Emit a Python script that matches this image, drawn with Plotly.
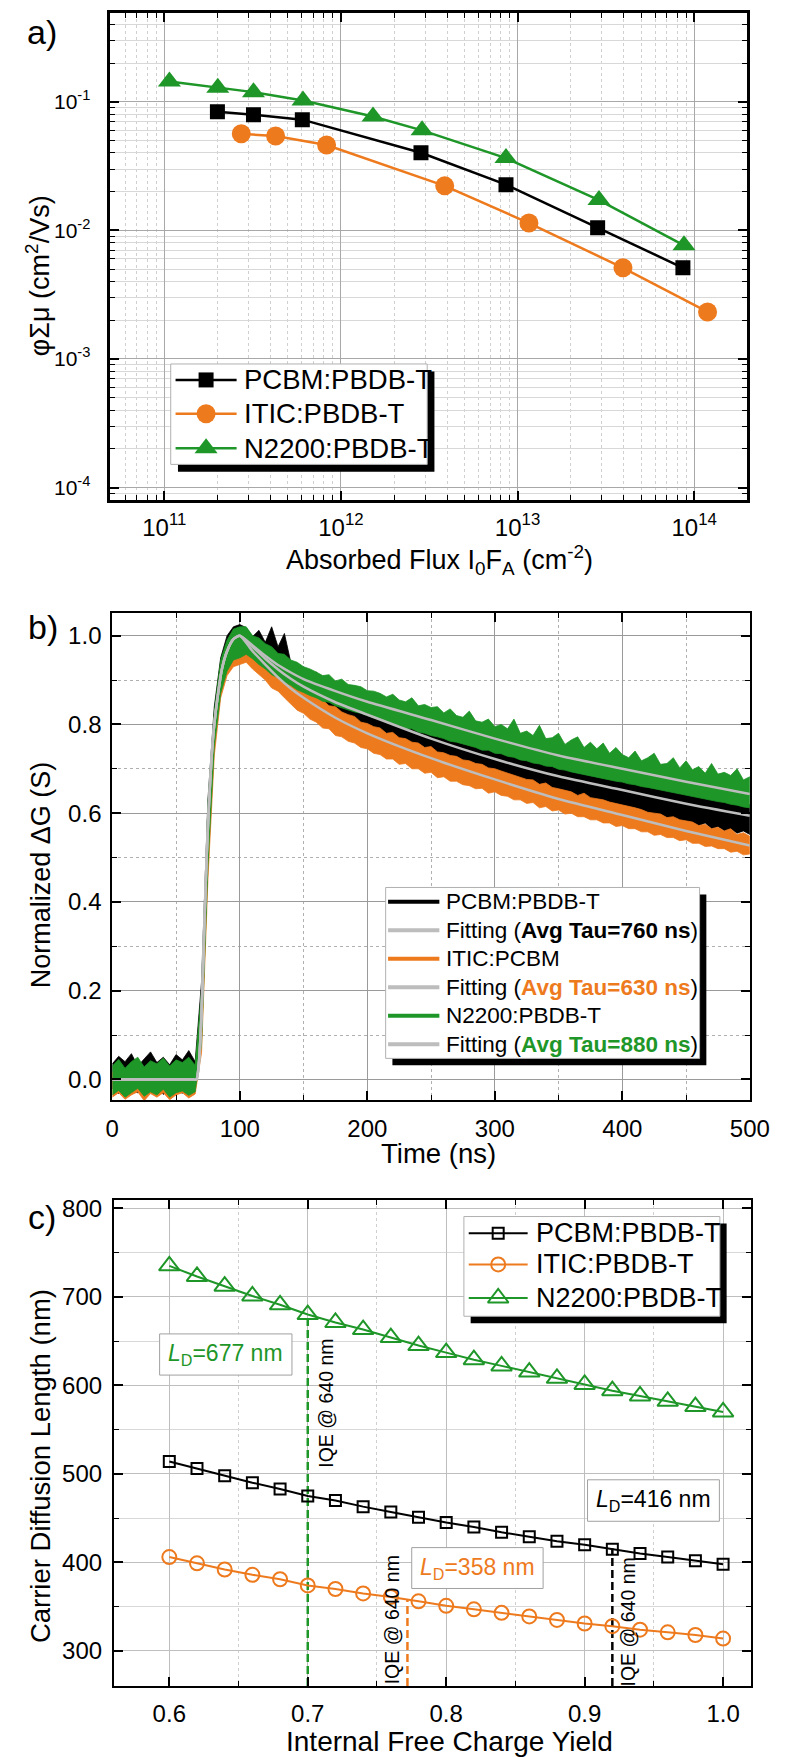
import plotly.graph_objects as go

W, H = 793, 1757
FONT = 'Liberation Sans, Arial, sans-serif'
BLACK = '#000000'
ORANGE = '#EE7A1E'
GREEN = '#1E9628'
FITGRAY = '#BDBDBD'

# ---------------- a) photoconductance vs absorbed flux
flux_pcbm = [2.0e11, 3.2e11, 6.05e11, 2.84e12, 8.6e12, 2.84e13, 8.63e13]
mob_pcbm = [0.0836, 0.0795, 0.0727, 0.0402, 0.0227, 0.0105, 0.00512]
flux_itic = [2.73e11, 4.27e11, 8.3e11, 3.87e12, 1.16e13, 3.95e13, 1.19e14]
mob_itic = [0.0564, 0.0542, 0.0462, 0.0222, 0.0114, 0.00512, 0.00232]
flux_n2200 = [1.07e11, 2.01e11, 3.2e11, 6.1e11, 1.52e12, 2.88e12, 8.6e12, 2.89e13, 8.75e13]
mob_n2200 = [0.144, 0.129, 0.119, 0.1026, 0.077, 0.060, 0.0365, 0.0172, 0.00766]

# ---------------- b) normalized TRMC transients (noise envelopes every 5 ns)
t_noise = list(range(0, 505, 5))
pcbm_hi = [0.035, 0.052, 0.04, 0.058, 0.03, 0.047, 0.062, 0.038, 0.05, 0.033, 0.056, 0.044, 0.065, 0.04,
           0.22, 0.63, 0.84, 0.95, 1.0, 1.02, 1.025,
           1.018, 0.998, 1.012, 0.985, 1.02, 0.975, 1.005,
           0.94, 0.921, 0.93, 0.905, 0.918, 0.892, 0.9, 0.895, 0.872, 0.885, 0.861, 0.87, 0.853,
           0.858, 0.835, 0.848, 0.826, 0.83, 0.822, 0.81, 0.818, 0.797, 0.806,
           0.79, 0.801, 0.782, 0.778, 0.789, 0.765, 0.772, 0.768, 0.75, 0.758,
           0.745, 0.752, 0.734, 0.742, 0.728, 0.735, 0.72, 0.718, 0.727, 0.705,
           0.716, 0.703, 0.702, 0.712, 0.69, 0.698, 0.688, 0.70, 0.681, 0.685,
           0.68, 0.672, 0.685, 0.665, 0.668, 0.672, 0.655, 0.66, 0.664, 0.648,
           0.652, 0.648, 0.641, 0.65, 0.634, 0.64, 0.638, 0.625, 0.634, 0.618]
pcbm_lo = [-0.02, -0.032, -0.015, -0.026, -0.03, -0.018, -0.027, -0.012, -0.034, -0.02, -0.025, -0.031, -0.018, -0.024,
           0.1, 0.5, 0.76, 0.88, 0.93, 0.955, 0.965,
           0.955, 0.94, 0.925, 0.912, 0.9, 0.89, 0.878,
           0.865, 0.852, 0.85, 0.836, 0.83, 0.826, 0.81, 0.812, 0.805, 0.79, 0.795, 0.782, 0.785,
           0.772, 0.775, 0.762, 0.758, 0.76, 0.742, 0.75, 0.735, 0.73, 0.738,
           0.718, 0.725, 0.712, 0.718, 0.70, 0.705, 0.698, 0.688, 0.695, 0.68,
           0.684, 0.672, 0.675, 0.665, 0.662, 0.668, 0.65, 0.655, 0.645, 0.648,
           0.636, 0.642, 0.632, 0.63, 0.625, 0.628, 0.618, 0.62, 0.61, 0.615,
           0.605, 0.61, 0.598, 0.60, 0.59, 0.598, 0.585, 0.59, 0.578, 0.582,
           0.575, 0.572, 0.578, 0.565, 0.57, 0.56, 0.565, 0.555, 0.56, 0.552]
itic_hi = [0.015, 0.025, 0.01, 0.02, 0.028, 0.012, 0.022, 0.018, 0.03, 0.01, 0.02, 0.025, 0.015, 0.02,
           0.18, 0.6, 0.82, 0.935, 0.985, 1.0, 1.005,
           0.99, 0.975, 0.965, 0.948, 0.94, 0.922, 0.915,
           0.90, 0.892, 0.878, 0.872, 0.86, 0.855, 0.842, 0.84, 0.828, 0.822, 0.818, 0.805, 0.802,
           0.795, 0.792, 0.78, 0.782, 0.77, 0.768, 0.76, 0.758, 0.748, 0.75,
           0.738, 0.736, 0.73, 0.728, 0.72, 0.718, 0.712, 0.71, 0.702, 0.70,
           0.695, 0.69, 0.685, 0.68, 0.676, 0.675, 0.665, 0.668, 0.658, 0.655,
           0.652, 0.648, 0.64, 0.645, 0.635, 0.632, 0.63, 0.625, 0.622, 0.618,
           0.615, 0.612, 0.608, 0.602, 0.60, 0.598, 0.59, 0.592, 0.585, 0.582,
           0.58, 0.572, 0.575, 0.565, 0.568, 0.56, 0.565, 0.552, 0.556, 0.548]
itic_lo = [-0.04, -0.03, -0.045, -0.035, -0.028, -0.048, -0.032, -0.04, -0.03, -0.046, -0.035, -0.03, -0.042, -0.033,
           0.06, 0.45, 0.73, 0.86, 0.91, 0.93, 0.935,
           0.94, 0.925, 0.912, 0.90, 0.882, 0.875, 0.86,
           0.845, 0.832, 0.825, 0.812, 0.805, 0.792, 0.79, 0.775, 0.772, 0.762, 0.758, 0.748, 0.745,
           0.735, 0.732, 0.722, 0.722, 0.71, 0.712, 0.70, 0.70, 0.69, 0.692,
           0.68, 0.682, 0.672, 0.672, 0.664, 0.662, 0.655, 0.656, 0.645, 0.648,
           0.64, 0.638, 0.63, 0.63, 0.622, 0.624, 0.612, 0.615, 0.605, 0.607,
           0.598, 0.60, 0.592, 0.592, 0.585, 0.585, 0.578, 0.578, 0.57, 0.572,
           0.565, 0.565, 0.558, 0.558, 0.55, 0.552, 0.545, 0.545, 0.538, 0.54,
           0.532, 0.532, 0.525, 0.526, 0.52, 0.52, 0.512, 0.514, 0.506, 0.508]
n2200_hi = [0.03, 0.045, 0.025, 0.04, 0.05, 0.028, 0.042, 0.035, 0.048, 0.03, 0.044, 0.038, 0.05, 0.032,
            0.2, 0.62, 0.83, 0.945, 0.99, 1.015, 1.02,
            1.02, 1.0, 0.995, 0.982, 0.975, 0.96, 0.958,
            0.945, 0.94, 0.93, 0.925, 0.918, 0.91, 0.912, 0.898, 0.902, 0.89, 0.888, 0.885, 0.876,
            0.875, 0.87, 0.862, 0.868, 0.855, 0.851, 0.86, 0.842, 0.845, 0.838,
            0.84, 0.826, 0.835, 0.82, 0.816, 0.83, 0.808, 0.805, 0.812, 0.795,
            0.80, 0.79, 0.812, 0.78, 0.785, 0.775, 0.798, 0.768, 0.77, 0.78,
            0.755, 0.765, 0.772, 0.748, 0.76, 0.745, 0.758, 0.735, 0.748, 0.732,
            0.725, 0.74, 0.718, 0.725, 0.735, 0.71, 0.712, 0.725, 0.702, 0.718,
            0.698, 0.705, 0.69, 0.712, 0.688, 0.692, 0.685, 0.70, 0.675, 0.682]
n2200_lo = [-0.035, -0.025, -0.04, -0.03, -0.02, -0.038, -0.028, -0.035, -0.022, -0.04, -0.03, -0.026, -0.036, -0.028,
            0.08, 0.48, 0.75, 0.87, 0.92, 0.945, 0.95,
            0.958, 0.948, 0.935, 0.925, 0.912, 0.905, 0.895,
            0.888, 0.878, 0.872, 0.865, 0.86, 0.852, 0.85, 0.842, 0.838, 0.833, 0.828, 0.825, 0.82,
            0.815, 0.812, 0.806, 0.80, 0.798, 0.79, 0.79, 0.783, 0.78, 0.775,
            0.772, 0.768, 0.762, 0.76, 0.755, 0.752, 0.748, 0.742, 0.742, 0.735,
            0.734, 0.728, 0.726, 0.72, 0.718, 0.713, 0.711, 0.706, 0.705, 0.699,
            0.697, 0.693, 0.69, 0.687, 0.684, 0.68, 0.678, 0.675, 0.672, 0.67,
            0.666, 0.664, 0.66, 0.658, 0.655, 0.652, 0.649, 0.646, 0.644, 0.64,
            0.638, 0.635, 0.632, 0.629, 0.626, 0.624, 0.62, 0.618, 0.614, 0.612]

fit_t = [0, 62, 66, 68, 70, 72, 74, 76, 78, 80, 83, 86, 90, 95, 100,
         110, 120, 130, 140, 150, 175, 200, 250, 300, 350, 400, 450, 500]
pcbm_fit = [0, 0, 0, 0.04, 0.15, 0.33, 0.5, 0.63, 0.73, 0.8, 0.87, 0.925, 0.965, 0.992, 1.0,
            0.975, 0.948, 0.924, 0.903, 0.885, 0.85, 0.822, 0.768, 0.722, 0.683, 0.652, 0.621, 0.594]
itic_fit = [0, 0, 0, 0.04, 0.15, 0.33, 0.5, 0.63, 0.73, 0.8, 0.87, 0.925, 0.965, 0.992, 1.0,
            0.965, 0.935, 0.906, 0.881, 0.86, 0.815, 0.78, 0.724, 0.676, 0.632, 0.596, 0.56, 0.527]
n2200_fit = [0, 0, 0, 0.04, 0.15, 0.33, 0.5, 0.63, 0.73, 0.8, 0.87, 0.925, 0.965, 0.992, 1.0,
             0.978, 0.955, 0.934, 0.917, 0.902, 0.875, 0.851, 0.81, 0.768, 0.73, 0.70, 0.671, 0.643]

# ---------------- c) carrier diffusion length vs free charge yield
yield_c = [0.60, 0.62, 0.64, 0.66, 0.68, 0.70, 0.72, 0.74, 0.76, 0.78, 0.80,
           0.82, 0.84, 0.86, 0.88, 0.90, 0.92, 0.94, 0.96, 0.98, 1.00]
ld_pcbm = [514, 506, 498, 490, 483, 475, 470, 463, 457, 451, 445, 440, 434, 429, 424, 420, 415, 410, 406, 402, 398]
ld_itic = [406, 399, 392, 386, 381, 374, 370, 365, 361, 356, 351, 347, 343, 339, 335, 331, 328, 324, 321, 318, 314]
ld_n2200 = [735, 723, 712, 701, 691, 680, 671, 663, 654, 645, 637, 629, 622, 615, 608, 601, 594, 588, 582, 576, 570]
iqe_yield = [0.92, 0.772, 0.70]      # PCBM, ITIC, N2200
iqe_ld = [416, 358, 677]

C_YRANGE = [260.5, 809.5]

fig = go.Figure()

# ---- a)
for fx, fy, col, sym, sz in [(flux_pcbm, mob_pcbm, BLACK, 'square', 15),
                             (flux_itic, mob_itic, ORANGE, 'circle', 19),
                             (flux_n2200, mob_n2200, GREEN, 'triangle-up', 20)]:
    fig.add_trace(go.Scatter(x=fx, y=fy, mode='lines+markers', xaxis='x', yaxis='y',
                             line=dict(color=col, width=2.5),
                             marker=dict(symbol=sym, size=sz, color=col, line=dict(width=0))))

# ---- b) noisy bands then fits
for hi, lo, col in [(pcbm_hi, pcbm_lo, BLACK), (itic_hi, itic_lo, ORANGE), (n2200_hi, n2200_lo, GREEN)]:
    fig.add_trace(go.Scatter(x=t_noise + t_noise[::-1], y=hi + lo[::-1], mode='lines',
                             fill='toself', fillcolor=col, line=dict(color=col, width=0.8),
                             xaxis='x2', yaxis='y2'))
for fit in [pcbm_fit, itic_fit, n2200_fit]:
    fig.add_trace(go.Scatter(x=fit_t, y=fit, mode='lines',
                             line=dict(color=FITGRAY, width=2.5, shape='spline', smoothing=0.6),
                             xaxis='x2', yaxis='y2'))

# ---- c) dashed IQE markers, then series
for xv, yv, col in zip(iqe_yield, iqe_ld, [BLACK, ORANGE, GREEN]):
    fig.add_trace(go.Scatter(x=[xv, xv], y=[C_YRANGE[0], yv], mode='lines', xaxis='x3', yaxis='y3',
                             line=dict(color=col, width=2.5, dash='8px,4px')))
for ly, col, sym, sz in [(ld_pcbm, BLACK, 'square-open', 11),
                         (ld_itic, ORANGE, 'circle-open', 14),
                         (ld_n2200, GREEN, 'triangle-up-open', 18)]:
    fig.add_trace(go.Scatter(x=yield_c, y=ly, mode='lines+markers', xaxis='x3', yaxis='y3',
                             line=dict(color=col, width=2),
                             marker=dict(symbol=sym, size=sz, color=col, line=dict(width=2, color=col))))

# ---- hand-built legends on a pixel overlay axis (x4/y4)
shapes = []
annotations = []


def px_legend(box, shadow, rows, x_line, x_text, fsize, lw):
    x0, y0, x1, y1 = box
    shapes.append(dict(type='rect', xref='x4', yref='y4', layer='below', x0=x0 + shadow, y0=y0 + shadow,
                       x1=x1 + shadow, y1=y1 + shadow, fillcolor='black', line=dict(width=0)))
    shapes.append(dict(type='rect', xref='x4', yref='y4', layer='below', x0=x0, y0=y0, x1=x1, y1=y1,
                       fillcolor='white', line=dict(color='#B0B0B0', width=1)))
    for ry, label, col, sym, sz, mlw in rows:
        fig.add_trace(go.Scatter(x=list(x_line), y=[ry, ry], mode='lines', xaxis='x4', yaxis='y4',
                                 line=dict(color=col, width=lw)))
        if sym:
            fig.add_trace(go.Scatter(x=[(x_line[0] + x_line[1]) / 2], y=[ry], mode='markers', xaxis='x4', yaxis='y4',
                                     marker=dict(symbol=sym, size=sz, color=col, line=dict(width=mlw, color=col))))
        annotations.append(dict(x=x_text, y=ry, xref='x4', yref='y4', text=label, showarrow=False,
                                xanchor='left', yanchor='middle', font=dict(size=fsize, color='black')))


px_legend((169.5, 360, 435, 460.7), 7.5,
          [(376, 'PCBM:PBDB-T', BLACK, 'square', 15, 0),
           (410, 'ITIC:PBDB-T', ORANGE, 'circle', 19, 0),
           (444.6, 'N2200:PBDB-T', GREEN, 'triangle-up', 20, 0)],
          (174.5, 237.7), 243, 27.5, 2.5)

px_legend((392, 885, 717, 1056.4), 7,
          [(899.3, 'PCBM:PBDB-T', BLACK, None, 0, 0),
           (927.9, 'Fitting (<b>Avg Tau=760 ns</b>)', FITGRAY, None, 0, 0),
           (956.4, 'ITIC:PCBM', ORANGE, None, 0, 0),
           (985, "Fitting (<b><span style='color:%s'>Avg Tau=630 ns</span></b>)" % ORANGE, FITGRAY, None, 0, 0),
           (1013.6, 'N2200:PBDB-T', GREEN, None, 0, 0),
           (1042.1, "Fitting (<b><span style='color:%s'>Avg Tau=880 ns</span></b>)" % GREEN, FITGRAY, None, 0, 0)],
          (394.5, 447.6), 452, 22.5, 4)

px_legend((473, 1215, 738, 1315), 7,
          [(1231.7, 'PCBM:PBDB-T', BLACK, 'square-open', 11, 2),
           (1263, 'ITIC:PBDB-T', ORANGE, 'circle-open', 14, 2),
           (1296.7, 'N2200:PBDB-T', GREEN, 'triangle-up-open', 18, 2)],
          (478, 539), 546, 27, 2)

# L_D boxes in panel c
for (bx0, by0, bx1, by1), ld, col in [((158, 1332.7, 295, 1374), iqe_ld[2], GREEN),
                                      ((601, 1479, 737.5, 1520.6), iqe_ld[0], BLACK),
                                      ((419, 1547, 555, 1588), iqe_ld[1], ORANGE)]:
    shapes.append(dict(type='rect', xref='x4', yref='y4', layer='below', x0=bx0, y0=by0, x1=bx1, y1=by1,
                       fillcolor='white', line=dict(color='#A0A0A0', width=1)))
    annotations.append(dict(x=(bx0 + bx1) / 2, y=(by0 + by1) / 2, xref='x4', yref='y4',
                            text='<i>L</i><sub>D</sub>=%d nm' % ld, showarrow=False,
                            xanchor='center', yanchor='middle', font=dict(size=23, color=col)))

# rotated IQE labels
for xx, yy in [(330, 1402), (398.5, 1619), (642.5, 1621.5)]:
    annotations.append(dict(x=xx, y=yy, xref='x4', yref='y4', text='IQE @ 640 nm', textangle=-90,
                            showarrow=False, xanchor='center', yanchor='middle', font=dict(size=19.5, color='black')))

# axis titles and panel letters
for xx, yy, txt, ang, fs in [
        (32, 271, 'φΣμ (cm<sup>2</sup>/Vs)', -90, 27),
        (35, 872, 'Normalized ΔG (S)', -90, 27),
        (35.5, 1465, 'Carrier Diffusion Length (nm)', -90, 27.5),
        (448, 557, 'Absorbed Flux I<sub>0</sub>F<sub>A</sub> (cm<sup>-2</sup>)', 0, 27),
        (447, 1152, 'Time (ns)', 0, 27.5),
        (458, 1741, 'Internal Free Charge Yield', 0, 28),
        (36, 27, 'a)', 0, 34),
        (37, 624, 'b)', 0, 34),
        (36, 1215, 'c)', 0, 34)]:
    annotations.append(dict(x=xx, y=yy, xref='x4', yref='y4', text=txt, textangle=ang, showarrow=False,
                            xanchor='center', yanchor='middle', font=dict(size=fs, color='black')))


def axis(domain, anchor, lw=2, gridcolor='#A8A8A8', fs=24, **kw):
    d = dict(domain=domain, anchor=anchor, showline=True, linecolor='black', linewidth=lw,
             mirror='allticks', ticks='inside', ticklen=9, tickwidth=1.5, tickcolor='black',
             showgrid=True, gridcolor=gridcolor, gridwidth=1, zeroline=False,
             tickfont=dict(size=fs, color='black'))
    d.update(kw)
    return d


def minor(dtick=None, tickvals=None, color='#C8C8C8', dash='dot'):
    m = dict(ticks='inside', ticklen=5, tickwidth=1.2, tickcolor='black', showgrid=True,
             gridcolor=color, gridwidth=1, griddash=dash)
    if dtick is not None:
        m['dtick'] = dtick
    if tickvals is not None:
        m['tickvals'] = tickvals
    return m


xa_minor = [k * 10 ** e for e in range(10, 15) for k in range(2, 10)]
ya_minor = [k * 10.0 ** e for e in range(-5, 0) for k in range(2, 10)]

layout_axes = dict(
    xaxis=axis([107 / W, 766.3 / W], 'y', lw=2.5, fs=24, type='log', range=[10.695, 14.3],
               tickmode='array', tickvals=[1e11, 1e12, 1e13, 1e14],
               ticktext=['10<sup>11</sup>', '10<sup>12</sup>', '10<sup>13</sup>', '10<sup>14</sup>'],
               ticklabelstandoff=4, minor=minor(tickvals=xa_minor, color='#D0D0D0')),
    yaxis=axis([1 - 496.4 / H, 1 - 7.9 / H], 'x', lw=2.5, fs=21, type='log', range=[-4.097, -0.308],
               tickmode='array', tickvals=[1e-4, 1e-3, 1e-2, 1e-1],
               ticktext=['10<sup>-4</sup>', '10<sup>-3</sup>', '10<sup>-2</sup>', '10<sup>-1</sup>'],
               ticklabelstandoff=13, minor=minor(tickvals=ya_minor, color='#D8D8D8', dash='solid')),
    xaxis2=axis([109 / W, 769 / W], 'y2', range=[0, 500], dtick=100, tick0=0,
                ticklabelstandoff=6, gridcolor='#9A9A9A', minor=minor(dtick=50, color='#B0B0B0')),
    yaxis2=axis([1 - 1098.6 / H, 1 - 610 / H], 'x2', range=[-0.0475, 1.0505], dtick=0.2, tick0=0,
                tickformat='.1f', ticklabelstandoff=4, gridcolor='#9A9A9A', minor=minor(dtick=0.1, color='#B0B0B0')),
    xaxis3=axis([110.7 / W, 770 / W], 'y3', range=[0.56, 1.02], dtick=0.1, tick0=0.6, tickformat='.1f',
                ticklabelstandoff=5, gridcolor='#BEBEBE', minor=minor(dtick=0.05, color='#CFCFCF')),
    yaxis3=axis([1 - 1685.7 / H, 1 - 1198.3 / H], 'x3', range=C_YRANGE, dtick=100, tick0=0,
                ticklabelstandoff=5, gridcolor='#BEBEBE', minor=minor(dtick=50, color='#D8D8D8', dash='solid')),
    xaxis4=dict(domain=[0, 1], anchor='y4', range=[0, W], visible=False, showgrid=False, zeroline=False),
    yaxis4=dict(domain=[0, 1], anchor='x4', range=[H, 0], visible=False, showgrid=False, zeroline=False),
)

fig.update_layout(
    width=W, height=H, autosize=False,
    margin=dict(l=0, r=0, t=0, b=0),
    paper_bgcolor='white', plot_bgcolor='rgba(0,0,0,0)',
    font=dict(family=FONT, color='black'),
    showlegend=False,
    shapes=shapes, annotations=annotations,
    **layout_axes,
)

fig.write_html("out.html", config={'displayModeBar': False},
               post_script="document.body.style.margin='0';")
